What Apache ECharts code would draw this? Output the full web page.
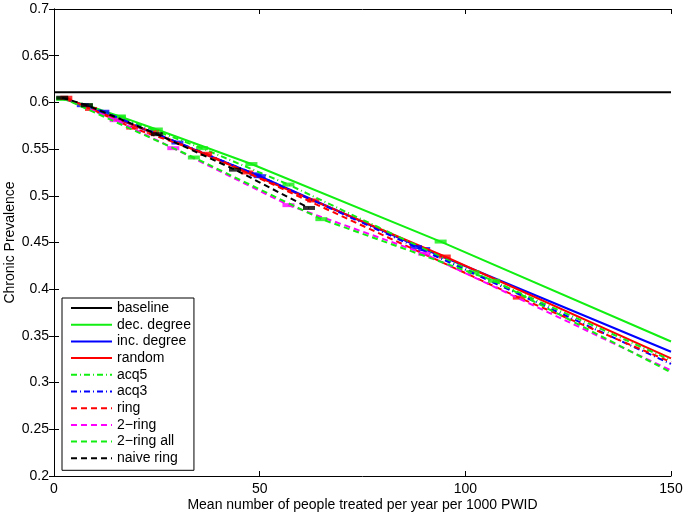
<!DOCTYPE html>
<html>
<head>
<meta charset="utf-8">
<script src="https://cdn.jsdelivr.net/npm/echarts@6/dist/echarts.min.js"></script>
<style>html,body{margin:0;padding:0;background:#fff}#c{width:687px;height:517px}</style>
</head>
<body>
<div id="c"></div>
<script>
// ---- data ----
var seriesNames = ['baseline','dec. degree','inc. degree','random','acq5','acq3','ring','2\u2212ring','2\u2212ring all','naive ring'];
var baselineX = [0, 150];
var baselineY = [0.611, 0.611];

var decDegreeX = [2, 8, 16, 25, 48, 94, 150];
var decDegreeY = [0.604, 0.597, 0.585, 0.571, 0.534, 0.451, 0.344];
var decDegreeMarks = [1,1,1,1,1,1,0];

var incDegreeX = [2, 7, 30, 49, 90, 150];
var incDegreeY = [0.605, 0.597, 0.557, 0.523, 0.443, 0.333];
var incDegreeMarks = [0,1,1,1,1,0];

var randomX = [2, 9, 24, 47, 63, 95, 150];
var randomY = [0.605, 0.593, 0.568, 0.525, 0.495, 0.435, 0.326];
var randomMarks = [0,1,1,1,1,1,0];

var acq5X = [2, 16, 36, 57, 102, 150];
var acq5Y = [0.604, 0.584, 0.551, 0.512, 0.418, 0.324];
var acq5Marks = [1,1,1,1,1,0];

var acq3X = [2, 12, 50, 88, 150];
var acq3Y = [0.605, 0.590, 0.521, 0.445, 0.320];
var acq3Marks = [0,1,1,1,0];

var ringX = [3, 19, 37, 113, 150];
var ringY = [0.605, 0.573, 0.545, 0.391, 0.322];
var ringMarks = [1,1,1,1,0];

var twoRingX = [2, 15, 29, 57, 90, 150];
var twoRingY = [0.605, 0.581, 0.551, 0.490, 0.438, 0.313];
var twoRingMarks = [0,1,1,1,1,0];

var twoRingAllX = [2, 34, 65, 107, 150];
var twoRingAllY = [0.605, 0.541, 0.475, 0.409, 0.311];
var twoRingAllMarks = [0,1,1,1,0];

var naiveRingX = [2, 8, 25, 44, 62];
var naiveRingY = [0.605, 0.597, 0.566, 0.528, 0.487];
var naiveRingMarks = [1,1,1,1,1];

var xTicks = [0, 50, 100, 150];
var yTicks = [0.2, 0.25, 0.3, 0.35, 0.4, 0.45, 0.5, 0.55, 0.6, 0.65, 0.7];

// ---- build ----
var GREEN = '#11ee11', BLUE = '#0000ff', RED = '#ff0000', MAG = '#ff00ff', BLACK = '#000000';
var DASH = [6, 4], DASHDOT = [6, 3, 1, 3];
var FONT = 'Liberation Sans, Arial, sans-serif';
var defs = [
  {name: seriesNames[0], x: baselineX, y: baselineY, m: null, color: BLACK, type: 'solid'},
  {name: seriesNames[1], x: decDegreeX, y: decDegreeY, m: decDegreeMarks, color: GREEN, type: 'solid'},
  {name: seriesNames[2], x: incDegreeX, y: incDegreeY, m: incDegreeMarks, color: BLUE, type: 'solid'},
  {name: seriesNames[3], x: randomX, y: randomY, m: randomMarks, color: RED, type: 'solid'},
  {name: seriesNames[4], x: acq5X, y: acq5Y, m: acq5Marks, color: GREEN, type: DASHDOT},
  {name: seriesNames[5], x: acq3X, y: acq3Y, m: acq3Marks, color: BLUE, type: DASHDOT},
  {name: seriesNames[6], x: ringX, y: ringY, m: ringMarks, color: RED, type: DASH},
  {name: seriesNames[7], x: twoRingX, y: twoRingY, m: twoRingMarks, color: MAG, type: DASH},
  {name: seriesNames[8], x: twoRingAllX, y: twoRingAllY, m: twoRingAllMarks, color: GREEN, type: DASH},
  {name: seriesNames[9], x: naiveRingX, y: naiveRingY, m: naiveRingMarks, color: BLACK, type: DASH}
];
var series = [];
defs.forEach(function (d, i) {
  var pts = d.x.map(function (v, k) { return [v, d.y[k]]; });
  series.push({
    name: d.name, type: 'line', data: pts, symbol: 'none', z: 2 + i,
    lineStyle: {color: d.color, width: 2, type: d.type}, itemStyle: {color: d.color},
    animation: false, silent: true
  });
  if (d.m) {
    var mp = pts.filter(function (p, k) { return d.m[k]; });
    series.push({
      name: d.name + ' err', type: 'scatter', data: mp, symbol: 'rect', symbolSize: [12, 4], z: 2 + i,
      itemStyle: {color: d.color}, animation: false, silent: true
    });
  }
});

var axisLine = {show: true, lineStyle: {color: '#000', width: 1}};
var chart = echarts.init(document.getElementById('c'), null, {renderer: 'canvas'});
chart.setOption({
  backgroundColor: '#fff',
  animation: false,
  grid: {left: 54, right: 16, top: 9, bottom: 41, containLabel: false, outerBoundsMode: 'none'},
  legend: {
    data: seriesNames, orient: 'vertical', left: 62, top: 298,
    itemWidth: 41, itemHeight: 13, itemGap: 2.7,
    padding: [3, 3, 5, 8],
    backgroundColor: '#fff', borderColor: '#000', borderWidth: 1,
    itemStyle: {color: 'rgba(0,0,0,0)', borderColor: 'rgba(0,0,0,0)', borderWidth: 0},
    textStyle: {fontFamily: FONT, fontSize: 14, lineHeight: 13, color: '#000'},
    selectedMode: false
  },
  xAxis: [{
    type: 'value', min: 0, max: 150, interval: 50,
    name: 'Mean number of people treated per year per 1000 PWID',
    nameLocation: 'middle', nameGap: 22, nameMoveOverlap: false,
    nameTextStyle: {fontFamily: FONT, fontSize: 14, color: '#000'},
    axisLine: axisLine, axisTick: {show: true, inside: true, length: 5, lineStyle: {color: '#000'}},
    axisLabel: {fontFamily: FONT, fontSize: 14, color: '#000', margin: 6},
    splitLine: {show: false}
  }, {
    type: 'value', min: 0, max: 150, interval: 50, position: 'top',
    axisLine: axisLine, axisTick: {show: true, inside: true, length: 5, lineStyle: {color: '#000'}},
    axisLabel: {show: false}, splitLine: {show: false}
  }],
  yAxis: [{
    type: 'value', min: 0.2, max: 0.7, interval: 0.05,
    name: 'Chronic Prevalence', nameLocation: 'middle', nameGap: 37, nameMoveOverlap: false,
    nameTextStyle: {fontFamily: FONT, fontSize: 14, color: '#000'},
    axisLine: axisLine, axisTick: {show: true, inside: true, length: 5, lineStyle: {color: '#000'}},
    axisLabel: {fontFamily: FONT, fontSize: 14, color: '#000', margin: 5,
      formatter: function (v) { return String(+v.toFixed(2)); }},
    splitLine: {show: false}
  }, {
    type: 'value', min: 0.2, max: 0.7, interval: 0.05, position: 'right',
    axisLine: axisLine, axisTick: {show: true, inside: true, length: 5, lineStyle: {color: '#000'}},
    axisLabel: {show: false}, splitLine: {show: false}
  }],
  series: series
});
</script>
</body>
</html>
